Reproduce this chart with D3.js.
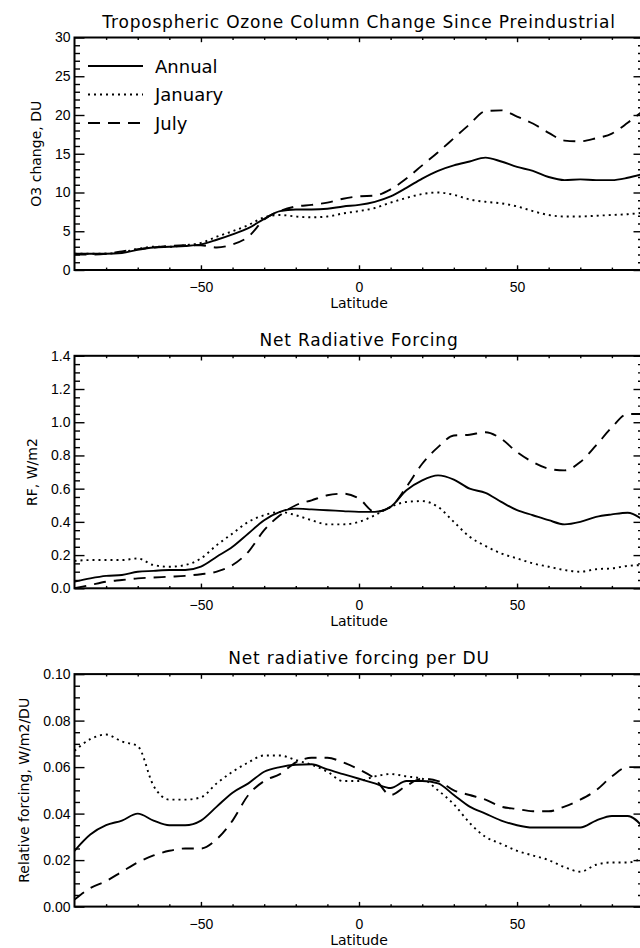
<!DOCTYPE html>
<html>
<head>
<meta charset="UTF-8">
<script src="https://cdn.jsdelivr.net/npm/d3@7"></script>
<style>
  body { margin: 0; background: #fff; }
  svg { display: block; font-family: 'DejaVu Sans', sans-serif; }
  .frame { fill: none; stroke: #000; stroke-width: 2; }
  .tick line { stroke: #000; stroke-width: 1.4; }
  .tick text { font-size: 14px; fill: #000; }
  .title { font-size: 17px; letter-spacing: 0.8px; text-anchor: middle; }
  .axtitle { font-size: 14px; text-anchor: middle; }
  .legend { font-size: 18px; }
  .series { fill: none; stroke: #000; stroke-width: 1.9; }
</style>
</head>
<body>
<svg id="chart" width="640" height="948"></svg>
<script>
// latitude grid (deg)
const lat = [-90,-85,-80,-75,-70,-65,-60,-55,-50,-45,-40,-35,-30,-25,-20,-15,-10,-5,0,5,10,15,20,25,30,35,40,45,50,55,60,65,70,75,80,85,90];

// tropospheric O3 column change, DU
const o3Annual = [2.1,2.1,2.1,2.2,2.6,2.9,3.0,3.1,3.3,3.9,4.6,5.4,6.6,7.6,7.8,7.8,7.9,8.2,8.4,8.8,9.5,10.6,11.8,12.8,13.5,14.0,14.5,14.0,13.3,12.8,12.0,11.6,11.7,11.6,11.6,11.9,12.4];
const o3Jan    = [2.1,2.1,2.1,2.3,2.7,3.0,3.0,3.2,3.5,4.3,5.0,5.8,6.8,7.1,6.9,6.8,6.9,7.3,7.6,8.0,8.7,9.3,9.8,10.0,9.7,9.1,8.8,8.6,8.2,7.6,7.1,6.9,6.9,7.0,7.1,7.2,7.4];
const o3Jul    = [2.0,2.0,2.1,2.4,2.7,2.9,3.1,3.2,3.2,2.9,3.3,4.3,6.5,7.6,8.2,8.4,8.7,9.2,9.5,9.6,10.4,11.8,13.5,15.2,17.0,18.8,20.5,20.6,19.8,18.9,17.7,16.7,16.6,17.0,17.6,19.0,20.6];

// net radiative forcing, W/m2
const rfAnnual = [0.04,0.06,0.075,0.08,0.10,0.105,0.11,0.11,0.13,0.19,0.25,0.33,0.41,0.46,0.48,0.475,0.47,0.465,0.46,0.46,0.49,0.59,0.65,0.68,0.655,0.60,0.575,0.52,0.47,0.44,0.41,0.385,0.40,0.43,0.445,0.455,0.41];
const rfJan    = [0.165,0.17,0.17,0.17,0.18,0.14,0.13,0.14,0.18,0.26,0.33,0.40,0.44,0.46,0.44,0.41,0.385,0.385,0.40,0.44,0.49,0.52,0.525,0.49,0.40,0.31,0.255,0.21,0.18,0.15,0.13,0.11,0.10,0.115,0.12,0.135,0.14];
const rfJul    = [0.0,0.02,0.04,0.05,0.06,0.065,0.07,0.075,0.085,0.10,0.14,0.22,0.35,0.44,0.50,0.53,0.56,0.57,0.54,0.46,0.49,0.61,0.75,0.85,0.92,0.925,0.94,0.90,0.82,0.76,0.72,0.71,0.76,0.86,0.97,1.05,1.05];

// forcing per DU, W/m2/DU
const relAnnual = [0.024,0.031,0.035,0.037,0.040,0.037,0.035,0.035,0.037,0.043,0.049,0.053,0.058,0.060,0.061,0.0612,0.059,0.057,0.055,0.053,0.051,0.054,0.054,0.053,0.048,0.043,0.040,0.037,0.035,0.034,0.034,0.034,0.034,0.037,0.039,0.039,0.034];
const relJan    = [0.067,0.072,0.074,0.071,0.069,0.052,0.046,0.046,0.047,0.053,0.058,0.062,0.065,0.065,0.063,0.061,0.058,0.054,0.054,0.056,0.057,0.056,0.055,0.050,0.044,0.036,0.030,0.027,0.024,0.022,0.020,0.017,0.015,0.018,0.019,0.019,0.021];
const relJul    = [0.003,0.008,0.011,0.015,0.019,0.022,0.024,0.025,0.025,0.029,0.037,0.048,0.054,0.057,0.062,0.064,0.064,0.062,0.059,0.055,0.048,0.052,0.055,0.054,0.050,0.048,0.046,0.043,0.042,0.041,0.041,0.043,0.046,0.050,0.056,0.060,0.060];

const xMajor = [-50, 0, 50];
const xMinor = [-80,-70,-60,-40,-30,-20,-10,10,20,30,40,60,70,80];

const seriesNames = ['Annual', 'January', 'July'];
const dashes = [null, '2,4', '12,8'];

const panels = [
  { title: 'Tropospheric Ozone Column Change Since Preindustrial', ytitle: 'O3 change, DU', ytx: 41,
    ymax: 30, major: [0,5,10,15,20,25,30], minorStep: 1, fmt: d3.format('d'),
    data: [o3Annual, o3Jan, o3Jul], legend: true },
  { title: 'Net Radiative Forcing', ytitle: 'RF, W/m2', ytx: 37,
    ymax: 1.4, major: [0,0.2,0.4,0.6,0.8,1.0,1.2,1.4], minorStep: 0.05, fmt: d3.format('.1f'),
    data: [rfAnnual, rfJan, rfJul] },
  { title: 'Net radiative forcing per DU', ytitle: 'Relative forcing, W/m2/DU', ytx: 29,
    ymax: 0.10, major: [0,0.02,0.04,0.06,0.08,0.10], minorStep: 0.005, fmt: d3.format('.2f'),
    data: [relAnnual, relJan, relJul] }
];

const svg = d3.select('#chart');
const left = 74.5, right = 643.5, plotH = 232.5, panelStep = 318.3, firstTop = 37.5;

const x = d3.scaleLinear().domain([-90, 90]).range([left, right]);
const minusFmt = d => (d < 0 ? '\u2212' + Math.abs(d) : '' + d);

panels.forEach((p, i) => {
  const top = firstTop + panelStep * i;
  const bottom = top + plotH;
  const y = d3.scaleLinear().domain([0, p.ymax]).range([bottom, top]);
  const g = svg.append('g');

  // minor y ticks
  const n = Math.round(p.ymax / p.minorStep);
  const yMinor = d3.range(n + 1).map(k => k * p.minorStep).filter(v => !p.major.some(m => Math.abs(m - v) < 1e-9));

  const clipId = 'clip' + i;
  svg.append('clipPath').attr('id', clipId)
    .append('rect').attr('x', left).attr('y', top).attr('width', right - left).attr('height', plotH);

  // data lines
  const line = d3.line().x((d, k) => x(lat[k])).y(d => y(d)).curve(d3.curveMonotoneX);
  p.data.forEach((vals, s) => {
    g.append('path').datum(vals)
      .attr('class', 'series')
      .attr('clip-path', `url(#${clipId})`)
      .attr('stroke-dasharray', dashes[s])
      .attr('d', line);
  });

  // x axes (ticks point inward)
  g.append('g').attr('transform', `translate(0,${bottom})`)
    .call(d3.axisBottom(x).tickValues(xMajor).tickSizeInner(-4.7).tickSizeOuter(0).tickPadding(12).tickFormat(minusFmt));
  g.append('g').attr('transform', `translate(0,${bottom})`)
    .call(d3.axisBottom(x).tickValues(xMinor).tickSizeInner(-2.4).tickSizeOuter(0).tickFormat(''));
  g.append('g').attr('transform', `translate(0,${top})`)
    .call(d3.axisTop(x).tickValues(xMajor).tickSizeInner(-4.7).tickSizeOuter(0).tickFormat(''));
  g.append('g').attr('transform', `translate(0,${top})`)
    .call(d3.axisTop(x).tickValues(xMinor).tickSizeInner(-2.4).tickSizeOuter(0).tickFormat(''));

  // y axes
  g.append('g').attr('transform', `translate(${left},0)`)
    .call(d3.axisLeft(y).tickValues(p.major).tickSizeInner(-10).tickSizeOuter(0).tickPadding(4).tickFormat(p.fmt));
  g.append('g').attr('transform', `translate(${left},0)`)
    .call(d3.axisLeft(y).tickValues(yMinor).tickSizeInner(-5.5).tickSizeOuter(0).tickFormat(''));
  g.append('g').attr('transform', `translate(${right},0)`)
    .call(d3.axisRight(y).tickValues(p.major).tickSizeInner(-10).tickSizeOuter(0).tickFormat(''));
  g.append('g').attr('transform', `translate(${right},0)`)
    .call(d3.axisRight(y).tickValues(yMinor).tickSizeInner(-5.5).tickSizeOuter(0).tickFormat(''));

  g.selectAll('.domain').remove();

  g.append('rect').attr('class', 'frame')
    .attr('x', left).attr('y', top).attr('width', right - left).attr('height', plotH);

  // titles
  g.append('text').attr('class', 'title')
    .attr('x', (left + right) / 2).attr('y', top - 10).text(p.title);
  g.append('text').attr('class', 'axtitle')
    .attr('x', (left + right) / 2).attr('y', bottom + 38).text('Latitude');
  g.append('text').attr('class', 'axtitle')
    .attr('transform', `translate(${p.ytx},${(top + bottom) / 2}) rotate(-90)`)
    .text(p.ytitle);

  if (p.legend) {
    const lg = g.append('g');
    seriesNames.forEach((name, s) => {
      const ly = top + 28.5 + s * 28.5;
      lg.append('line').attr('class', 'series')
        .attr('x1', 88).attr('x2', 143).attr('y1', ly).attr('y2', ly)
        .attr('stroke-dasharray', dashes[s]);
      lg.append('text').attr('class', 'legend')
        .attr('x', 155).attr('y', ly + 6.5).text(name);
    });
  }
});
</script>
</body>
</html>
